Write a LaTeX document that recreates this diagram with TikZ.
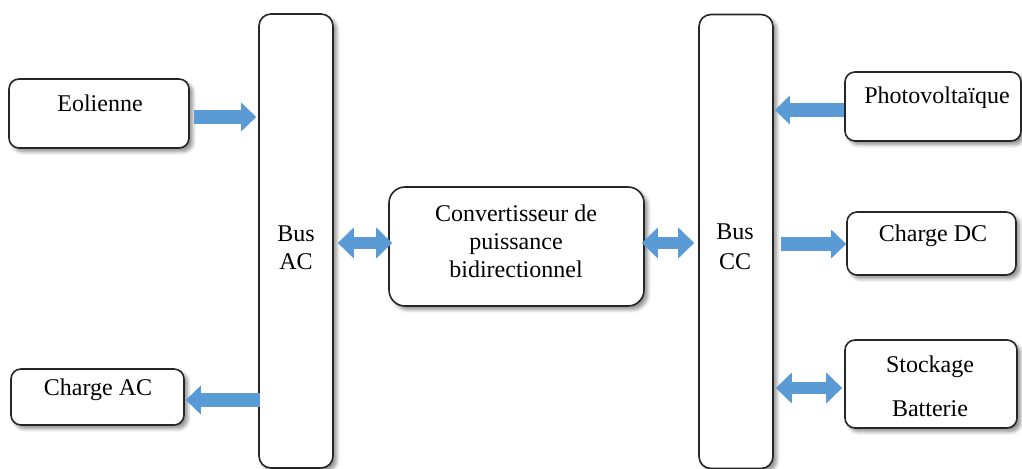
\documentclass[tikz,border=0pt]{standalone}
\usepackage{fontspec}
\setmainfont{Liberation Serif}
\usetikzlibrary{arrows.meta,shadows.blur}
\definecolor{flowblue}{HTML}{5B9BD5}
\definecolor{edgegrey}{HTML}{262626}
\begin{document}
\begin{tikzpicture}[x=0.5pt,y=-0.5pt,
  box/.style={draw=edgegrey,line width=0.8pt,fill=white,rounded corners=5pt,
    inner sep=0pt,
    blur shadow={shadow xshift=1.8pt,shadow yshift=-1.8pt,shadow blur steps=6,shadow opacity=45}},
  bus/.style={box,minimum width=37pt,minimum height=227pt,rounded corners=6pt},
  txt/.style={font=\fontsize{12}{14}\selectfont,align=center,inner sep=0pt},
  fat/.style={draw=flowblue,line width=7pt,-{Triangle[width=14pt,length=7.5pt]}},
  fatboth/.style={draw=flowblue,line width=6pt,{Triangle[width=15pt,length=8pt]}-{Triangle[width=15pt,length=8pt]}}]
\useasboundingbox (0,0) rectangle (1022,469);

% buses
\node[bus] (busac) at (296,241) {};
\node[bus] (buscc) at (736,241.5) {};

% sources, loads and converter
\node[box,minimum width=90pt,minimum height=34.5pt] (eol) at (99,113.5) {};
\node[box,minimum width=86.5pt,minimum height=28pt] (chac) at (97.5,397) {};
\node[box,minimum width=127.5pt,minimum height=59.5pt,rounded corners=8pt] (conv) at (516.5,246.5) {};
\node[box,minimum width=88pt,minimum height=34.5pt] (pv) at (933,106.5) {};
\node[box,minimum width=84.5pt,minimum height=31.5pt] (chdc) at (931.5,243.5) {};
\node[box,minimum width=86pt,minimum height=44pt] (stock) at (931,384) {};

% labels
\node[txt] (busacT) at (296,248) {Bus\\AC};
\node[txt] (busccT) at (735,247) {Bus\\[1pt]CC};
\node[txt] (eolT) at (100,103) {Eolienne};
\node[txt] (chacT) at (98,390) {Charge AC};
\node[txt] (convT) at (516,241) {Convertisseur de\\puissance\\bidirectionnel};
\node[txt] (pvT) at (937,98) {Photovoltaïque};
\node[txt] (chdcT) at (933,236) {Charge DC};
\node[txt] (stockT) at (930,386) {Stockage\\[8pt]Batterie};

% connector end points
\coordinate (a1) at ([xshift=2pt,yshift=-1.75pt]eol.east);
\coordinate (a2) at ([xshift=-1pt,yshift=-79.5pt]busac.west);
\coordinate (c1) at ([xshift=2pt,yshift=1.75pt]conv.west);
\coordinate (c2) at ([xshift=-1.5pt,yshift=1.75pt]conv.east);
\coordinate (p1) at ([yshift=-1.75pt]pv.west);
\coordinate (d1) at ([yshift=-0.25pt]chdc.west);
\coordinate (s1) at ([xshift=-1pt,yshift=-2pt]stock.west);

% power flows
\draw[fat] (a1) -- (a1 -| a2);
\draw[fat] ([yshift=-1.5pt]chac.east -| busac.east) ++(-37pt,0) coordinate (b1) -- ([xshift=0.5pt]b1 -| chac.east);
\draw[fatboth] ([xshift=2pt]c1 -| busac.east) -- (c1);
\draw[fatboth] (c2) -- ([xshift=-2pt]c2 -| buscc.west);
\draw[fat] (p1) -- ([xshift=0.5pt]p1 -| buscc.east);
\draw[fat] ([xshift=3.5pt]d1 -| buscc.east) -- (d1);
\draw[fatboth] ([xshift=1pt]s1 -| buscc.east) -- (s1);
\end{tikzpicture}
\end{document}
